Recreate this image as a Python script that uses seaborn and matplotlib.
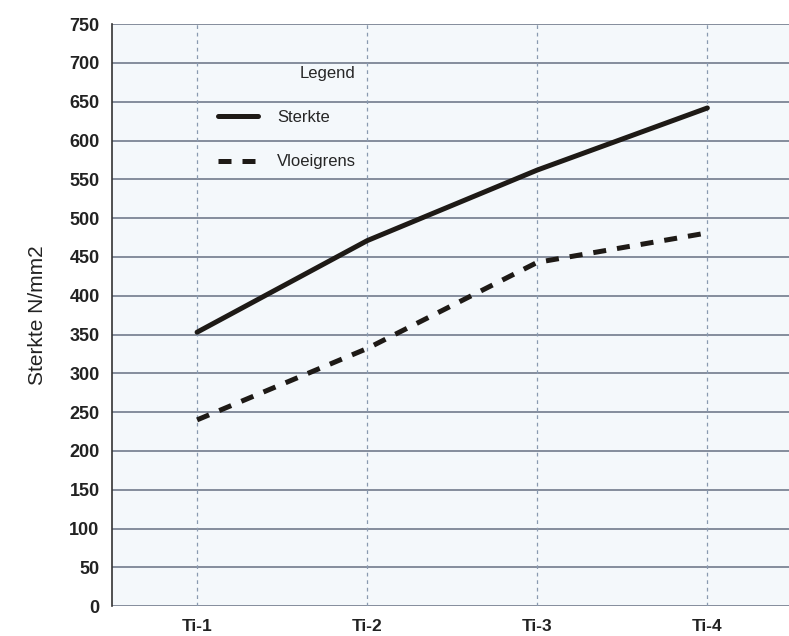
import pandas as pd
import matplotlib.pyplot as plt
import seaborn as sns

# data
categories = ['Ti-1', 'Ti-2', 'Ti-3', 'Ti-4']
sterkte = [353, 471, 562, 642]
vloeigrens = [240, 332, 443, 481]
yticks = list(range(0, 751, 50))

df = pd.DataFrame({
    'cat': categories * 2,
    'pos': list(range(4)) * 2,
    'value': sterkte + vloeigrens,
    'serie': ['Sterkte'] * 4 + ['Vloeigrens'] * 4,
})

sns.set_style('white')
plt.rcParams['font.family'] = ['Liberation Sans', 'DejaVu Sans']

fig = plt.figure(figsize=(7.89, 6.36), dpi=100)
fig.patch.set_facecolor('white')
ax = fig.add_axes([0.142, 0.047, 0.858, 0.915])
ax.set_facecolor('#f4f8fb')

dash = (2.6, 2.2)
sns.lineplot(data=df, x='pos', y='value', style='serie', color='#1e1a16',
             dashes={'Sterkte': '', 'Vloeigrens': dash},
             linewidth=3.6, legend=False, ax=ax)

# grid
for v in yticks:
    ax.axhline(v, color='#7c8494', lw=1.3, zorder=0)
for i in range(len(categories)):
    ax.axvline(i, color='#8a9ab0', lw=0.9, ls=(0, (3, 3)), zorder=0)

ax.set_xlim(-0.5, 3.48)
ax.set_ylim(0, 750)
ax.set_xticks(range(len(categories)))
ax.set_xticklabels(categories)
ax.set_yticks(yticks)
ax.tick_params(axis='y', length=6, width=1.2, color='#333333', labelsize=13, pad=3)
ax.tick_params(axis='x', length=0, labelsize=12.5, pad=9)
for lab in ax.get_xticklabels() + ax.get_yticklabels():
    lab.set_fontweight('bold')
    lab.set_color('#222222')

for s in ['top', 'right', 'bottom']:
    ax.spines[s].set_visible(False)
ax.spines['left'].set_color('#333333')
ax.spines['left'].set_linewidth(1.2)

ax.set_xlabel('')
ax.set_ylabel('Sterkte N/mm2', fontsize=15, color='#222222', labelpad=16)

# legend
h1, = ax.plot([], [], color='#1e1a16', lw=3.6)
h2, = ax.plot([], [], color='#1e1a16', lw=3.6, ls=(0, dash))
leg = ax.legend([h1, h2], ['Sterkte', 'Vloeigrens'], title='Legend',
                loc='upper left', bbox_to_anchor=(0.14, 0.948), frameon=False,
                fontsize=12, title_fontsize=12, handlelength=2.4,
                labelspacing=1.75, handletextpad=1.1, borderpad=0.2)
leg._legend_box.align = 'right'

fig.savefig('out.png', dpi=100)
